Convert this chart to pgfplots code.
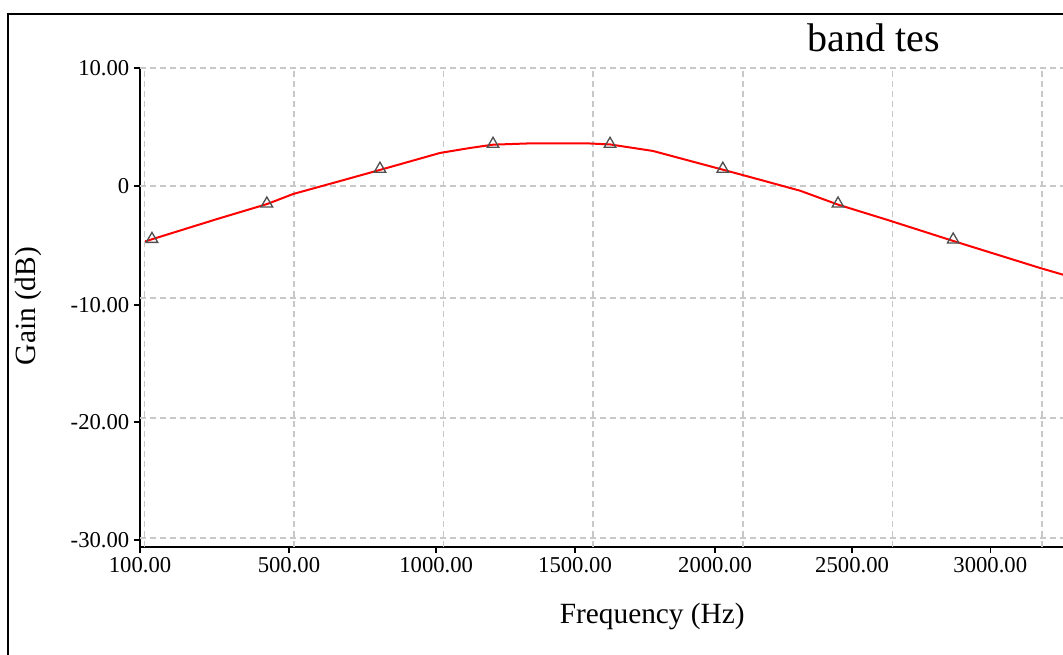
\documentclass[border=0pt]{standalone}
\usepackage{fontspec}
\setmainfont{Liberation Serif}
\usepackage{pgfplots}
\pgfplotsset{compat=1.18}
\definecolor{gridgray}{RGB}{200,200,200}
\definecolor{markgray}{RGB}{80,80,80}
\begin{document}
\begin{tikzpicture}
\useasboundingbox (0,0) rectangle (797.25pt,491.25pt);
\draw[line width=1.5pt] (6pt,-5pt) -- (6pt,480.75pt) -- (810pt,480.75pt);
\node[font=\fontsize{30}{36}\selectfont, anchor=center] at (655.5pt,462.75pt) {band tes};
\begin{axis}[
  at={(105pt,81pt)}, anchor=south west,
  scale only axis,
  width=692.25pt, height=359.25pt,
  xmin=-15, xmax=3070,
  ymin=-30.6, ymax=10,
  axis lines*=left,
  axis line style={line width=1.5pt, black},
  tick align=outside,
  major tick length=4.5pt,
  tick style={line width=1.2pt, black},
  xtick={-15,483,975,1439,1907,2365,2827},
  xticklabels={100.00,500.00,1000.00,1500.00,2000.00,2500.00,3000.00},
  ytick={-30,-20,-10.08,0,10},
  yticklabels={-30.00,-20.00,-10.00,0,10.00},
  ticklabel style={font=\fontsize{17}{20}\selectfont},
  xmajorgrids=false, ymajorgrids=false,
  extra x ticks={0,500,1000,1500,2000,2500,3000},
  extra x tick labels={},
  extra y ticks={10,0,-9.49,-19.66,-29.83},
  extra y tick labels={},
  extra tick style={grid=major, tick align=inside, major tick length=0pt, tick style={draw=none, line width=0pt}},
  major grid style={gridgray, line width=1.2pt, dash pattern=on 4.5pt off 3pt},
  xlabel={Frequency (Hz)},
  ylabel={Gain (dB)},
  label style={font=\fontsize{22}{26}\selectfont},
  xlabel style={at={(axis description cs:0.555,-0.1448)}, anchor=center},
  ylabel style={at={(axis description cs:-0.1213,0.503)}, anchor=center},
  clip=false,
]
\addplot[red, line width=1.5pt, no marks] coordinates {
(2,-4.70) (243,-2.80) (410,-1.53) (497,-0.68) (654,0.42) (787,1.36)
(988,2.80) (1088,3.22) (1165,3.50) (1300,3.62) (1400,3.62) (1489,3.60) (1556,3.52) (1699,2.97)
(1933,1.38) (2057,0.53) (2191,-0.40) (2318,-1.58) (2481,-2.86)
(2703,-4.66) (2993,-6.95) (3070,-7.52)
};
\addplot[only marks, mark=triangle, mark size=5pt, mark options={markgray, line width=1pt, fill opacity=0}] coordinates {
(25,-4.5) (409,-1.5) (787,1.45) (1165,3.56) (1556,3.56) (1933,1.45) (2318,-1.5) (2703,-4.55)
};
\end{axis}
\end{tikzpicture}
\end{document}
